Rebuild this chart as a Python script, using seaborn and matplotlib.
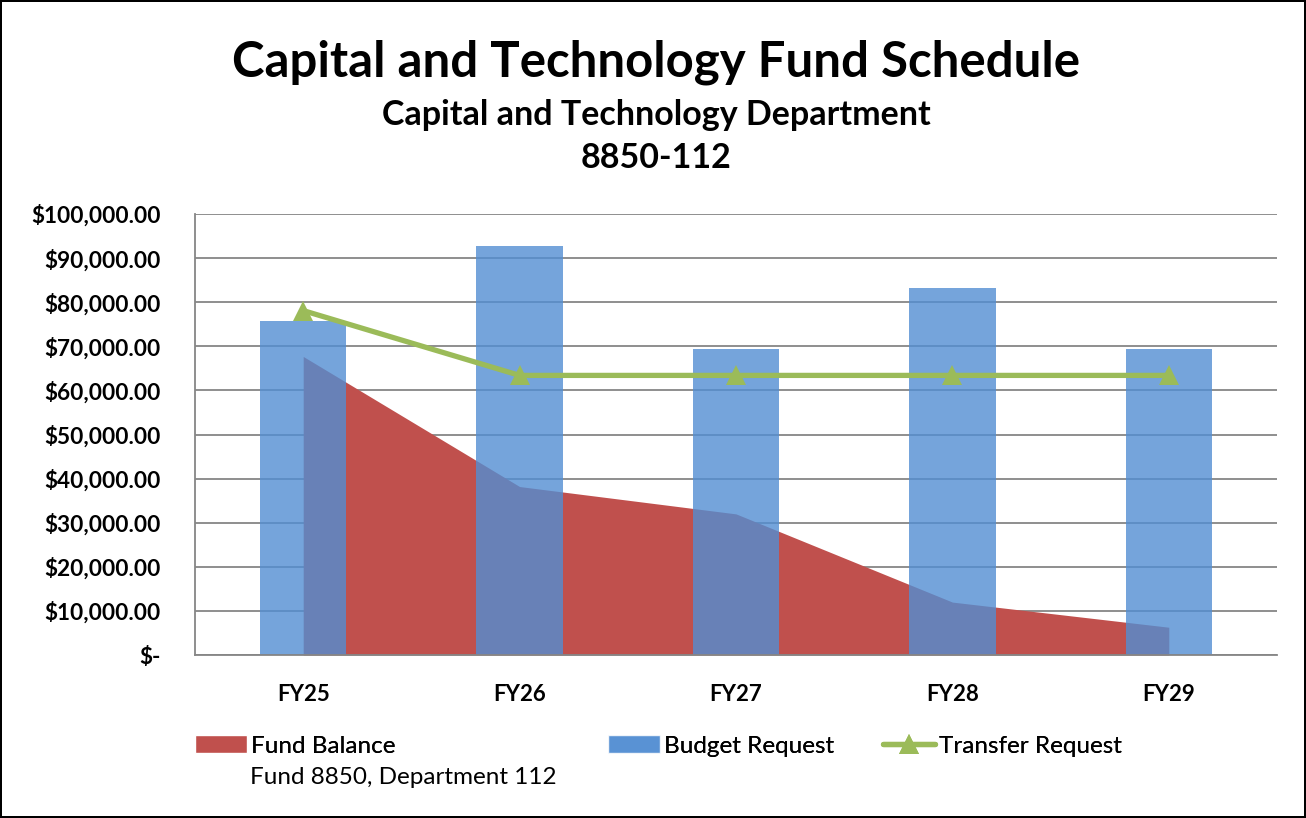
import numpy as np
import pandas as pd
import seaborn as sns
import matplotlib.pyplot as plt
from matplotlib.ticker import FuncFormatter, FixedLocator
from matplotlib.patches import Patch
from matplotlib.lines import Line2D

# ----------------------------
# DATA
# ----------------------------
years = ["FY25", "FY26", "FY27", "FY28", "FY29"]
budget_request = [75800, 92800, 69500, 83300, 69300]
fund_balance = [67700, 38200, 32000, 12000, 6300]
transfer_request = [78100, 63400, 63400, 63400, 63400]

RED = "#C0504D"
BLUE = "#528ED3"
GREEN = "#9BBB59"
GRID = "#868686"

sns.set_style("white")
plt.rcParams["font.family"] = ["Lato", "DejaVu Sans"]
plt.rcParams["text.color"] = "black"
plt.rcParams["xtick.labelcolor"] = "black"
plt.rcParams["ytick.labelcolor"] = "black"

df = pd.DataFrame({"year": years, "budget": budget_request,
                   "balance": fund_balance, "transfer": transfer_request})
df["pos"] = np.arange(len(df))

fig = plt.figure(figsize=(13.06, 8.18), dpi=100)
ax = fig.add_axes([195 / 1306, 1 - 655 / 818, (1277 - 195) / 1306, (655 - 214) / 818])

# fund balance area (behind the bars)
ax.fill_between(df["pos"], 0, df["balance"], color=RED, linewidth=0, zorder=1)

# budget request bars
sns.barplot(data=df, x="year", y="budget", color=BLUE, alpha=0.8, width=0.4,
            saturation=1, linewidth=0, edgecolor="none", ax=ax, zorder=2)

# transfer request line
sns.lineplot(x=df["pos"], y=df["transfer"], color=GREEN, linewidth=3.8,
             marker="^", markersize=15, markeredgewidth=0, ax=ax, zorder=4)

ax.set_xlim(-0.5, len(years) - 0.5)
ax.set_ylim(0, 100000)
ax.set_yticks(np.arange(0, 100001, 10000))
ax.yaxis.set_major_formatter(FuncFormatter(lambda v, p: "$-" if v == 0 else f"${v:,.2f}"))
ax.grid(axis="y", color=GRID, linewidth=1.3, zorder=0)
ax.set_axisbelow(True)
ax.set_xlabel("")
ax.set_ylabel("")

for s in ["top", "right"]:
    ax.spines[s].set_visible(False)
for s in ["left", "bottom"]:
    ax.spines[s].set_color(GRID)
    ax.spines[s].set_linewidth(1.3)

ax.tick_params(axis="y", direction="out", length=6.5, width=1.3, color=GRID,
               labelsize=16.3, pad=18)
ax.tick_params(axis="x", which="major", length=0, labelsize=16, pad=21)
ax.xaxis.set_minor_locator(FixedLocator(np.arange(-0.5, len(years), 1.0)))
ax.tick_params(axis="x", which="minor", direction="out", length=6.5, width=1.3, color=GRID)
for lab in ax.get_yticklabels() + ax.get_xticklabels():
    lab.set_fontweight("bold")

# titles
fig.text(656 / 1306, 1 - 62 / 818, "Capital and Technology Fund Schedule",
         ha="center", va="center", fontsize=35.4, fontweight="bold")
fig.text(656 / 1306, 1 - 115 / 818, "Capital and Technology Department",
         ha="center", va="center", fontsize=24.5, fontweight="bold")
fig.text(656 / 1306, 1 - 158 / 818, "8850-112",
         ha="center", va="center", fontsize=24.5, fontweight="bold")

# legend, one entry each, spaced like the original
entries = [
    (Patch(facecolor=RED), "Fund Balance", 195),
    (Patch(facecolor=BLUE, alpha=0.8), "Budget Request", 608),
    (Line2D([0], [0], color=GREEN, lw=3.8, marker="^", markersize=15,
            markeredgewidth=0), "Transfer Request", 883),
]
for handle, label, x0 in entries:
    leg = fig.legend([handle], [label], loc="center left",
                     bbox_to_anchor=(x0 / 1306, 1 - 746 / 818),
                     frameon=False, fontsize=17.5, handlelength=2.15,
                     handletextpad=0.15, borderpad=0, borderaxespad=0)
    fig.add_artist(leg)
fig.text(250 / 1306, 1 - 778 / 818, "Fund 8850, Department 112",
         ha="left", va="center", fontsize=17.5)

fig.patch.set_edgecolor("black")
fig.patch.set_linewidth(1.5)

fig.savefig("out.png", dpi=100, edgecolor=fig.get_edgecolor())
